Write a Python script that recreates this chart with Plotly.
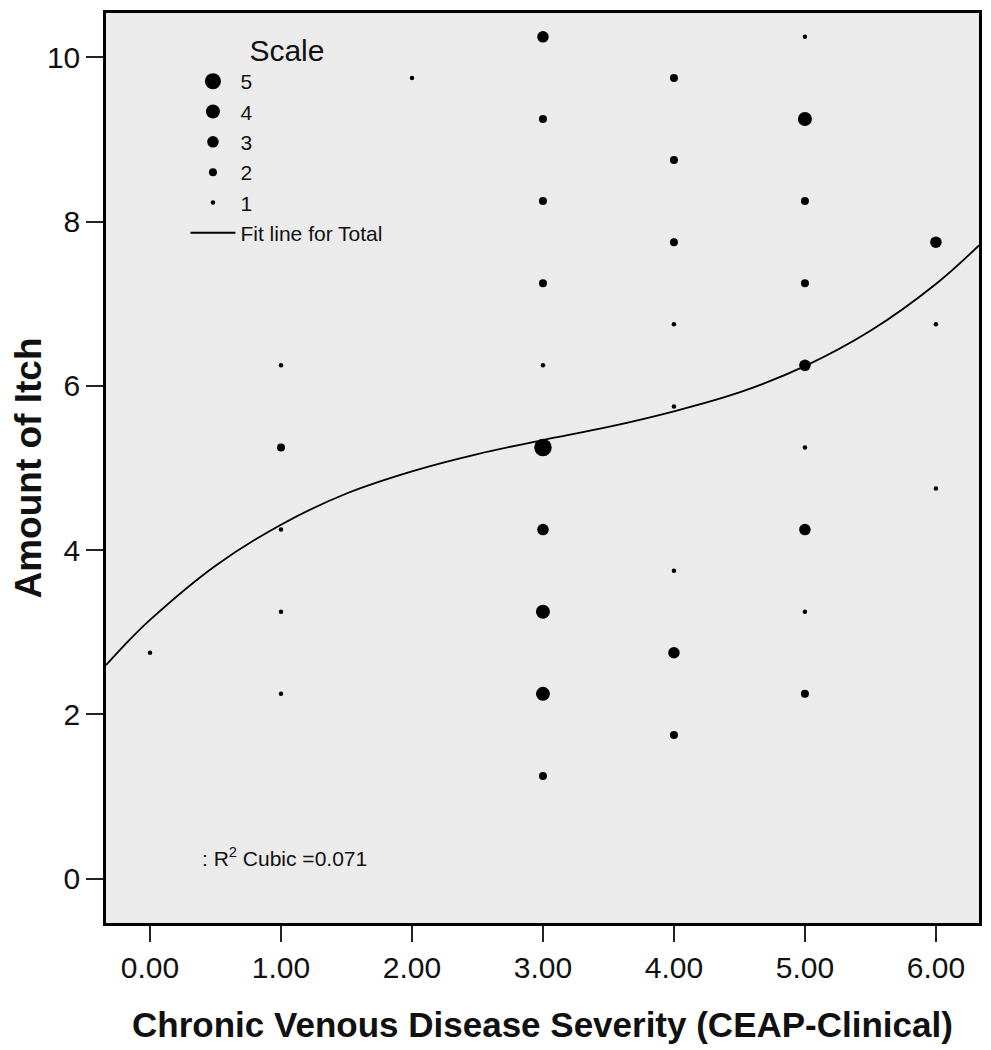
import plotly.graph_objects as go

# ---- data ----
severity = [0,
            1, 1, 1, 1, 1,
            2,
            3, 3, 3, 3, 3, 3, 3, 3, 3, 3,
            4, 4, 4, 4, 4, 4, 4, 4,
            5, 5, 5, 5, 5, 5, 5, 5, 5,
            6, 6, 6]
itch = [2.75,
        6.25, 5.25, 4.25, 3.25, 2.25,
        9.75,
        10.25, 9.25, 8.25, 7.25, 6.25, 5.25, 4.25, 3.25, 2.25, 1.25,
        9.75, 8.75, 7.75, 6.75, 5.75, 3.75, 2.75, 1.75,
        10.25, 9.25, 8.25, 7.25, 6.25, 5.25, 4.25, 3.25, 2.25,
        7.75, 6.75, 4.75]
scale = [1,
         1, 2, 1, 1, 1,
         1,
         3, 2, 2, 2, 1, 5, 3, 4, 4, 2,
         2, 2, 2, 1, 1, 1, 3, 2,
         1, 4, 2, 2, 3, 1, 3, 1, 2,
         3, 1, 1]

scale_levels = [5, 4, 3, 2, 1]

# cubic fit line
fit_x = [-0.336, -0.2, 0.0, 0.5, 1.0, 1.5, 2.0, 2.5, 3.0, 3.5, 4.0, 4.5, 5.0, 5.5, 6.0, 6.329]
fit_y = [2.60, 2.835, 3.15, 3.81, 4.31, 4.69, 4.96, 5.17, 5.34, 5.50, 5.69, 5.92, 6.24, 6.67, 7.24, 7.71]

x_ticks = [0, 1, 2, 3, 4, 5, 6]
x_ticklabels = ["0.00", "1.00", "2.00", "3.00", "4.00", "5.00", "6.00"]
y_ticks = [0, 2, 4, 6, 8, 10]

r2_text = ": R<sup>2</sup> Cubic =0.071"

# ---- styling ----
FONT = "Liberation Sans, Arial, sans-serif"
marker_px = {5: 17.5, 4: 14, 3: 11.5, 2: 8, 1: 4.5}

fig = go.Figure()

for lvl in scale_levels:
    xs = [x for x, s in zip(severity, scale) if s == lvl]
    ys = [y for y, s in zip(itch, scale) if s == lvl]
    fig.add_trace(go.Scatter(
        x=xs, y=ys, mode="markers", name=str(lvl),
        legendgroup=str(lvl),
        marker=dict(size=marker_px[lvl], color="black", line=dict(width=0)),
        hoverinfo="x+y+name",
    ))

fig.add_trace(go.Scatter(
    x=fit_x, y=fit_y, mode="lines", name="Fit line for Total",
    legendgroup="fit",
    line=dict(color="black", width=1.8, shape="spline", smoothing=1.0),
    hoverinfo="skip",
))

# page body has an 8px margin, so the figure is sized/offset to compensate
fig.update_layout(
    width=983, height=1042,
    margin=dict(l=98, r=11.5, t=4.7, b=127.3),
    paper_bgcolor="white",
    plot_bgcolor="#ebebeb",
    font=dict(family=FONT, color="#111"),
    showlegend=True,
    legend=dict(
        x=0.091, y=0.99, xanchor="left", yanchor="top",
        bgcolor="rgba(0,0,0,0)", borderwidth=0,
        itemsizing="trace", itemwidth=45,
        tracegroupgap=0,
        font=dict(family=FONT, size=21, color="#111"),
        title=dict(text="Scale", side="top center",
                   font=dict(family=FONT, size=30, color="#111")),
        traceorder="normal",
    ),
    annotations=[dict(
        x=0.1076, y=0.0722, xref="paper", yref="paper",
        xanchor="left", yanchor="middle", showarrow=False,
        text=r2_text, font=dict(family=FONT, size=21, color="#111"),
    )],
)

fig.update_xaxes(
    range=[-0.336, 6.329], automargin=False,
    tickmode="array", tickvals=x_ticks, ticktext=x_ticklabels,
    ticks="outside", ticklen=16, tickwidth=2, tickcolor="#222",
    showline=True, linecolor="black", linewidth=2.5, mirror=True,
    showgrid=False, zeroline=False,
    tickfont=dict(family=FONT, size=30, color="#111"),
    title=dict(text="<b>Chronic Venous Disease Severity (CEAP-Clinical)</b>",
               font=dict(family=FONT, size=35, color="#111"), standoff=30),
)
fig.update_yaxes(
    range=[-0.54, 10.54], automargin=False,
    tickmode="array", tickvals=y_ticks,
    ticks="outside", ticklen=17, tickwidth=2, tickcolor="#222",
    showline=True, linecolor="black", linewidth=2.5, mirror=True,
    showgrid=False, zeroline=False,
    tickfont=dict(family=FONT, size=30, color="#111"),
    title=dict(text="<b>Amount of Itch</b>",
               font=dict(family=FONT, size=37, color="#111"), standoff=18),
)

fig.write_html("out.html")
